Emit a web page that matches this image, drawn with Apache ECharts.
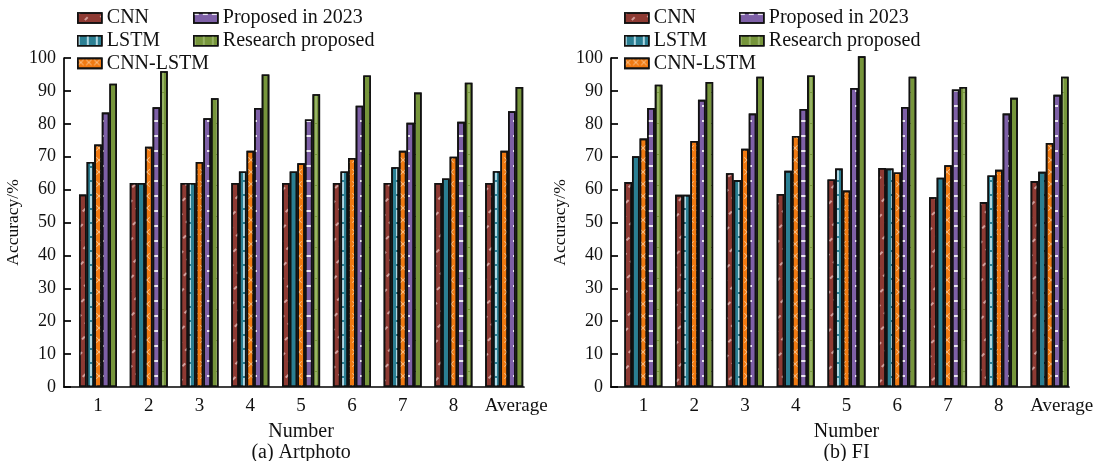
<!DOCTYPE html>
<html>
<head>
<meta charset="utf-8">
<script src="https://cdn.jsdelivr.net/npm/echarts@6/dist/echarts.min.js"></script>
<style>
html,body{margin:0;padding:0;background:#fff;}
#c{width:1100px;height:461px;}
</style>
</head>
<body>
<div id="c"></div>
<script>
// ---- data ----
const categories = ['1','2','3','4','5','6','7','8','Average'];
const seriesNames = ['CNN','LSTM','CNN-LSTM','Proposed in 2023','Research proposed'];
const yTicks = [0,10,20,30,40,50,60,70,80,90,100];

// (a) Artphoto
const artCNN      = [58.5, 62.0, 62.0, 62.0, 62.0, 62.0, 62.0, 62.0, 62.0];
const artLSTM     = [68.4, 62.0, 62.0, 65.5, 65.5, 65.5, 66.8, 63.4, 65.6];
const artCNNLSTM  = [73.7, 73.0, 68.4, 71.8, 68.0, 69.6, 71.8, 70.0, 71.8];
const artProp2023 = [83.4, 85.0, 81.7, 84.8, 81.3, 85.5, 80.3, 80.6, 83.8];
const artResearch = [92.2, 96.0, 87.8, 95.0, 89.0, 94.7, 89.5, 92.5, 91.2];

// (b) FI
const fiCNN      = [62.3, 58.4, 65.0, 58.7, 63.1, 66.6, 57.7, 56.2, 62.6];
const fiLSTM     = [70.1, 58.4, 62.9, 65.7, 66.4, 66.4, 63.6, 64.3, 65.4];
const fiCNNLSTM  = [75.5, 74.8, 72.4, 76.3, 59.7, 65.2, 67.4, 66.0, 74.2];
const fiProp2023 = [84.8, 87.3, 83.1, 84.5, 90.9, 85.1, 90.4, 83.1, 88.8];
const fiResearch = [91.9, 92.7, 94.3, 94.7, 100.5, 94.3, 91.2, 87.9, 94.3];

// ---- styles ----
const FONT = "'Liberation Serif','Times New Roman',serif";
const colors = ['#8E3A33','#2B7F93','#F07A12','#7E60A7','#76953B'];
const decals = [
  {symbol:'rect', symbolSize:1, dashArrayX:[[4,9]], dashArrayY:[1.2,7], rotation:-Math.PI/4, color:'rgba(255,225,225,0.6)'},
  {symbol:'rect', symbolSize:1, dashArrayX:[1.2,6.4], dashArrayY:[12,2], rotation:0, color:'rgba(220,245,255,0.75)'},
  {symbol:'path://M0,1L1,0L5,4L9,0L10,1L6,5L10,9L9,10L5,6L1,10L0,9L4,5Z', symbolSize:1, dashArrayX:[6,1.6], dashArrayY:[8,4], rotation:0, color:'rgba(255,230,200,0.7)'},
  {symbol:'rect', symbolSize:1, dashArrayX:[4.5,3.1], dashArrayY:[1.5,13], rotation:0, color:'rgba(255,255,255,0.85)'},
  {symbol:'rect', symbolSize:1, dashArrayX:[1.2,6.4], dashArrayY:[30,1], rotation:0, color:'rgba(215,235,180,0.35)'}
];

const TOP = 58, H = 329;
const frames = [{left:64, width:460}, {left:611, width:458}];
const barGrids = [{left:72.6, width:457}, {left:618, width:457}];
const subtitles = ['(a) Artphoto', '(b) FI'];
const dataSets = [
  [artCNN, artLSTM, artCNNLSTM, artProp2023, artResearch],
  [fiCNN, fiLSTM, fiCNNLSTM, fiProp2023, fiResearch]
];

const grid = [], xAxis = [], yAxis = [], series = [];
for (let k = 0; k < 2; k++) {
  // frame grid (axis lines, y ticks and labels)
  grid.push({left:frames[k].left, width:frames[k].width, top:TOP, height:H, containLabel:false, outerBoundsMode:'none'});
  xAxis.push({gridIndex:2*k, type:'value', min:0, max:1,
    axisLine:{show:true, onZero:false, lineStyle:{color:'#000', width:1.7}},
    axisTick:{show:false}, axisLabel:{show:false}, splitLine:{show:false}});
  yAxis.push({gridIndex:2*k, type:'value', min:yTicks[0], max:yTicks[yTicks.length-1], interval:10,
    name:'Accuracy/%', nameLocation:'middle', nameGap:42, nameRotate:90,
    nameTextStyle:{fontFamily:FONT, fontSize:17.5, color:'#111'},
    axisLine:{show:true, lineStyle:{color:'#000', width:1.7}},
    axisTick:{show:true, inside:true, length:7, lineStyle:{color:'#000', width:1.7}},
    axisLabel:{fontFamily:FONT, fontSize:18, color:'#111', margin:8},
    splitLine:{show:false}});
  // bar grid
  grid.push({left:barGrids[k].left, width:barGrids[k].width, top:TOP, height:H, containLabel:false, outerBoundsMode:'none'});
  xAxis.push({gridIndex:2*k+1, type:'category', data:categories,
    axisLine:{show:false}, axisTick:{show:false},
    axisLabel:{interval:0, fontFamily:FONT, fontSize:19, color:'#111', margin:10,
      formatter: v => v === 'Average' ? '{avg|' + v + '}' : v,
      rich:{avg:{fontFamily:FONT, fontSize:19, color:'#111', padding:[0,0,0,24]}}},
    name:'Number\n' + subtitles[k], nameLocation:'middle', nameGap:31,
    nameTextStyle:{fontFamily:FONT, fontSize:20, color:'#111', lineHeight:21}});
  yAxis.push({gridIndex:2*k+1, type:'value', min:0, max:100, show:false});
  for (let s = 0; s < 5; s++) {
    series.push({
      name:seriesNames[s], type:'bar', xAxisIndex:2*k+1, yAxisIndex:2*k+1,
      data:dataSets[k][s], barWidth:7.6, barGap:'0%', clip:false,
      itemStyle:{color:colors[s], borderColor:'#111', borderWidth:1.6, decal:decals[s]},
      emphasis:{disabled:true}, animation:false
    });
  }
}

function legend(left, top, names) {
  return {left:left, top:top, orient:'vertical', data:names, selectedMode:false,
    icon:'rect', itemWidth:24, itemHeight:10, itemGap:2.7, padding:0,
    itemStyle:{borderColor:'#111', borderWidth:1.6},
    textStyle:{fontFamily:FONT, fontSize:20, color:'#111', lineHeight:20}};
}

const chart = echarts.init(document.getElementById('c'), null, {renderer:'canvas'});
chart.setOption({
  backgroundColor:'#fff',
  animation:false,
  legend:[
    legend(77, 8, seriesNames.slice(0,3)),
    legend(193, 8, seriesNames.slice(3)),
    legend(624, 8, seriesNames.slice(0,3)),
    legend(739, 8, seriesNames.slice(3))
  ],
  grid:grid, xAxis:xAxis, yAxis:yAxis, series:series
});
</script>
</body>
</html>
